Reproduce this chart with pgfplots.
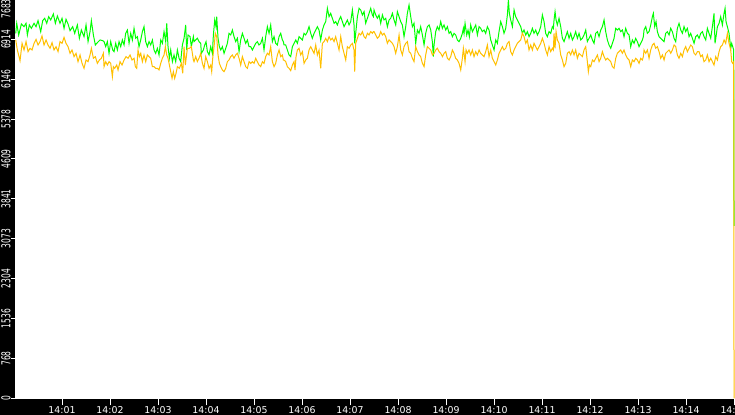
\documentclass[border=0pt]{standalone}
\usepackage{fontspec}
\setmainfont{DejaVu Sans}
\usepackage{pgfplots}
\pgfplotsset{compat=1.18}
\definecolor{gr}{RGB}{0,255,0}
\definecolor{og}{RGB}{255,192,0}
\newcommand\yl[1]{\scalebox{0.8}[1.3]{#1}}
\begin{document}
\begin{tikzpicture}
\fill[black] (0,0) rectangle (735bp,415bp);
\begin{axis}[
  at={(15bp,16.7bp)}, anchor=south west,
  scale only axis, width=720bp, height=399bp,
  xmin=0.02, xmax=15.02, ymin=0, ymax=7683,
  axis background/.style={fill=white},
  axis x line*=bottom, axis y line*=left,
  axis line style={white, line width=1bp},
  tick align=outside,
  tick style={white, line width=1bp},
  major tick length=4bp,
  xtick style={/pgfplots/major tick length=7bp},
  font=\fontsize{9.4bp}{10bp}\selectfont,
  xtick={1,2,...,15},
  xticklabels={14:01,14:02,14:03,14:04,14:05,14:06,14:07,14:08,14:09,14:10,14:11,14:12,14:13,14:14,14:15},
  xticklabel style={white, anchor=north, inner sep=0.5bp, yshift=-3.5bp},
  ytick={0,768,1536,2304,3073,3841,4609,5378,6146,6914,7683},
  yticklabels={\yl{0},\yl{768},\yl{1536},\yl{2304},\yl{3073},\yl{3841},\yl{4609},\yl{5378},\yl{6146},\yl{6914},\makebox[0pt][r]{\yl{7683}}},
  yticklabel style={white, rotate=90, anchor=south, inner sep=0.3bp},
  clip=false,
]
\addplot[gr, line width=1bp, no markers] coordinates {
(0.035,7028) (0.056,7221) (0.097,6996) (0.153,7208) (0.208,7156) (0.25,7221) (0.278,6996) (0.319,7189)
(0.361,7124) (0.417,7221) (0.458,7156) (0.5,7272) (0.556,7060) (0.597,7272) (0.639,7317) (0.681,7221)
(0.722,7349) (0.764,7285) (0.819,7400) (0.861,7221) (0.903,7362) (0.958,7221) (1.0,7317) (1.042,7124)
(1.083,7298) (1.125,7208) (1.167,7079) (1.222,7156) (1.264,7028) (1.319,7189) (1.361,6932) (1.403,7092)
(1.458,6964) (1.5,7189) (1.542,6868) (1.583,7060) (1.611,7272) (1.653,6996) (1.694,6803) (1.736,6848)
(1.792,6900) (1.847,6887)
(1.875,6868) (1.910,6771) (1.944,6868) (1.979,6643) (2.014,6868) (2.056,6707) (2.083,6675) (2.118,6835)
(2.153,6707) (2.188,6868) (2.222,6771) (2.257,6900) (2.292,6803) (2.326,7028) (2.361,7092) (2.396,6835)
(2.431,7028) (2.465,6900) (2.5,7124) (2.535,6932) (2.569,6964) (2.604,6771) (2.639,6900) (2.674,7060)
(2.708,7156) (2.743,6868) (2.778,6771) (2.813,6868) (2.847,6803) (2.882,6900) (2.917,6707) (2.951,6643)
(2.986,6739) (3.021,6611) (3.056,6900) (3.090,6835) (3.125,7060) (3.160,6868) (3.181,7221) (3.208,6771)
(3.236,6547) (3.264,6707) (3.299,6482) (3.333,6611) (3.368,6482) (3.403,6707) (3.438,6547) (3.472,6482)
(3.507,6803) (3.542,6932) (3.576,7189) (3.597,6707) (3.625,6996) (3.667,6964) (3.694,6771) (3.736,6964)
(3.75,6868) (3.785,6900) (3.819,6932) (3.854,6868) (3.889,6835) (3.903,6643) (3.944,6707) (3.972,6803)
(4.0,6868) (4.028,6675) (4.063,6611) (4.097,6771) (4.132,6643) (4.153,6996) (4.181,7285) (4.208,7156)
(4.222,7349) (4.25,6932) (4.278,6771) (4.306,6707) (4.340,6771) (4.375,6643) (4.410,6739) (4.444,6835)
(4.479,7028) (4.514,6996) (4.549,7092) (4.583,6964) (4.618,6868) (4.653,6932) (4.688,6675) (4.722,6900)
(4.757,7028) (4.792,6932) (4.826,6835) (4.861,6900) (4.896,6771) (4.931,6771) (4.965,6707) (5.0,6771)
(5.035,6835) (5.069,6868) (5.104,6803) (5.139,6835) (5.174,6932) (5.208,6707) (5.243,6964) (5.278,7156)
(5.313,7028) (5.347,7189) (5.382,6868) (5.417,6964) (5.451,6835) (5.486,6803) (5.521,6964) (5.556,7028)
(5.590,6900) (5.611,6868)
(5.625,6803) (5.660,6803) (5.694,6707) (5.729,6611) (5.764,6579) (5.799,6771) (5.833,6835) (5.868,6900)
(5.903,6835) (5.938,6964) (5.972,6932) (6.007,6900) (6.042,7028) (6.076,6996) (6.111,7060) (6.146,7156)
(6.181,7028) (6.215,6932) (6.25,7028) (6.285,7092) (6.319,7156) (6.354,7092) (6.389,6900) (6.424,7092)
(6.458,7189) (6.493,7253) (6.528,7510) (6.563,7349) (6.597,7413) (6.632,7317) (6.667,7221) (6.701,7253)
(6.736,7189) (6.771,7285) (6.806,7349) (6.840,7253) (6.875,7156) (6.910,7221) (6.944,7285) (6.979,7189)
(7.014,7253) (7.049,7477) (7.083,7189) (7.097,6835) (7.118,7028) (7.153,7349) (7.188,7510) (7.222,7477)
(7.257,7381) (7.292,7445) (7.326,7221) (7.361,7317) (7.396,7413) (7.431,7510) (7.465,7381) (7.486,7349)
(7.5,7477) (7.535,7381) (7.569,7317) (7.604,7381) (7.639,7221) (7.674,7381) (7.708,7285) (7.743,7317)
(7.778,7156) (7.813,7285) (7.847,7317) (7.882,7413) (7.917,7285) (7.951,7189) (7.986,7445) (8.021,7349)
(8.056,7253) (8.090,7189) (8.125,6964) (8.160,7156) (8.194,7413) (8.229,7574) (8.264,7349) (8.299,7156)
(8.333,7221) (8.368,6835) (8.403,7092) (8.438,7028) (8.472,7156) (8.507,6996) (8.542,6803) (8.576,7028)
(8.611,7156) (8.646,7189) (8.681,7092) (8.715,6868) (8.736,6579) (8.75,6803) (8.785,7060) (8.819,7156)
(8.854,7092) (8.889,7253) (8.924,7124) (8.958,7189) (8.993,7092) (9.028,7156) (9.063,7028) (9.097,7060)
(9.132,6964) (9.167,7028) (9.201,6996) (9.236,6900) (9.271,6868) (9.306,6932) (9.340,7028) (9.361,7124)
(9.375,7028) (9.396,7221) (9.431,6996) (9.458,7092) (9.486,6964) (9.514,7189) (9.549,7060) (9.583,7124)
(9.618,7189) (9.653,6996) (9.688,7156) (9.722,7124) (9.757,7060) (9.792,7092) (9.826,7028) (9.861,7156)
(9.896,7092) (9.931,6900) (9.965,6803) (10.0,6707) (10.035,6900) (10.069,6835) (10.104,7060) (10.139,7253)
(10.174,7156) (10.208,7028) (10.243,7124) (10.278,7381) (10.299,7670) (10.319,7413) (10.347,7285) (10.382,7156)
(10.417,7477) (10.451,7349) (10.486,7285) (10.521,7221) (10.556,7156) (10.590,7028) (10.625,7092) (10.660,6996)
(10.694,7060) (10.729,6964) (10.764,7028) (10.799,7124) (10.833,7028) (10.868,7092) (10.903,6996) (10.938,7060)
(10.972,7156) (11.007,7381) (11.042,7253) (11.076,7028) (11.111,6964) (11.146,7060) (11.181,7028) (11.215,7156)
(11.236,7124)
(11.25,7285) (11.271,7445) (11.292,7285) (11.319,7189) (11.354,7317) (11.389,7156) (11.424,6932) (11.458,6868)
(11.493,6964) (11.528,7060) (11.563,6932) (11.597,7028) (11.632,6900) (11.667,6964) (11.701,7060) (11.736,6932)
(11.771,7028) (11.806,6900) (11.840,6932) (11.875,6996) (11.910,7092) (11.944,6868) (11.979,6932) (12.014,6996)
(12.049,6900) (12.083,6835) (12.118,7028) (12.153,7060) (12.188,6964) (12.222,7092) (12.257,7156) (12.292,7285)
(12.326,7060) (12.361,6900) (12.396,6803) (12.431,6739) (12.465,6835) (12.5,6932) (12.535,7124) (12.569,7092)
(12.604,7124) (12.639,7060) (12.674,7092) (12.708,6964) (12.743,7124) (12.778,7028) (12.813,6996) (12.847,6771)
(12.882,6900) (12.917,6835) (12.951,6932) (12.986,6868) (13.021,6771) (13.056,6835) (13.090,6900) (13.111,6964)
(13.125,7092) (13.160,7156) (13.194,7028) (13.229,7060) (13.264,7189) (13.299,7349) (13.319,7413) (13.347,7156)
(13.375,7253) (13.403,7060) (13.438,6964) (13.472,6932) (13.507,6900) (13.542,6868) (13.576,7028) (13.611,7060)
(13.646,6996) (13.681,7124) (13.715,7060) (13.75,6932) (13.785,6868) (13.819,7124) (13.854,7221) (13.889,7092)
(13.924,7028) (13.958,7156) (13.993,7060) (14.028,7124) (14.063,6964) (14.097,7028) (14.132,6932) (14.167,6835)
(14.201,6964) (14.236,6996) (14.271,6932) (14.306,7028) (14.340,7060) (14.375,6964) (14.410,6900) (14.444,7124)
(14.479,7028) (14.514,6932) (14.549,7156) (14.583,7413) (14.604,6835) (14.625,6964) (14.653,7156) (14.688,7221)
(14.722,7349) (14.757,7189) (14.792,7413) (14.813,7510) (14.833,7253) (14.861,7156) (14.896,7028) (14.931,6739)
(14.951,6835) (14.972,6771) (14.993,6707) (15.0,3320)
};
\addplot[og, line width=1bp, no markers] coordinates {
(0.035,6900) (0.069,6707) (0.104,6579) (0.125,6502) (0.167,6835) (0.208,6707) (0.25,6868) (0.292,6675)
(0.333,6739) (0.375,6707) (0.417,6835) (0.458,6912) (0.5,6803) (0.542,6868) (0.583,6977) (0.625,6803)
(0.667,6900) (0.708,6803) (0.75,6739) (0.792,6848) (0.833,6707) (0.875,6771) (0.917,6675) (0.958,6868)
(1.0,6835) (1.042,6951) (1.083,6835) (1.125,6771) (1.167,6643) (1.208,6707) (1.25,6579) (1.292,6643)
(1.333,6482) (1.375,6611) (1.417,6450) (1.458,6354) (1.5,6514) (1.542,6482) (1.583,6611) (1.611,6739)
(1.653,6547) (1.694,6579) (1.736,6450) (1.778,6514) (1.819,6547) (1.861,6643)
(1.875,6386) (1.910,6482) (1.944,6418) (1.979,6482) (2.014,6450) (2.049,6193) (2.069,6386) (2.097,6354)
(2.139,6418) (2.167,6322) (2.208,6482) (2.25,6418) (2.292,6514) (2.333,6579) (2.375,6547) (2.417,6611)
(2.458,6514) (2.5,6547) (2.528,6386) (2.556,6354) (2.583,6707) (2.611,6579) (2.639,6643) (2.674,6482)
(2.708,6611) (2.743,6482) (2.778,6611) (2.813,6579) (2.847,6547) (2.882,6386) (2.917,6386) (2.951,6354)
(2.986,6354) (3.021,6322) (3.056,6450) (3.090,6547) (3.125,6611) (3.153,6771) (3.181,6611) (3.208,6547)
(3.236,6418) (3.264,6290) (3.292,6161) (3.319,6290) (3.347,6161) (3.375,6258) (3.403,6386) (3.444,6354)
(3.486,6450) (3.514,6258) (3.542,6771) (3.569,6418) (3.611,6739) (3.653,6739) (3.694,6771) (3.736,6514)
(3.75,6482) (3.785,6579) (3.819,6482) (3.854,6547) (3.889,6643) (3.924,6450) (3.958,6354) (3.993,6579)
(4.028,6482) (4.063,6354) (4.097,6418) (4.118,6290) (4.139,6547) (4.167,6771) (4.194,7028) (4.222,6964)
(4.25,6611) (4.278,6450) (4.306,6386) (4.340,6322) (4.375,6290) (4.410,6354) (4.444,6482) (4.479,6514)
(4.514,6579) (4.549,6611) (4.583,6547) (4.618,6611) (4.653,6643) (4.688,6547) (4.722,6418) (4.757,6579)
(4.792,6482) (4.826,6386) (4.861,6354) (4.896,6482) (4.931,6450) (4.965,6482) (5.0,6450) (5.035,6547)
(5.069,6482) (5.104,6418) (5.139,6386) (5.174,6482) (5.208,6450) (5.243,6579) (5.278,6643) (5.313,6611)
(5.347,6771) (5.382,6482) (5.417,6386) (5.451,6450) (5.486,6611) (5.521,6707) (5.556,6579) (5.590,6611)
(5.611,6514)
(5.625,6514) (5.660,6482) (5.694,6386) (5.729,6354) (5.764,6309) (5.799,6418) (5.833,6482) (5.854,6322)
(5.875,6579) (5.903,6707) (5.938,6739) (5.972,6611) (6.007,6675) (6.042,6450) (6.076,6514) (6.111,6547)
(6.146,6707) (6.181,6771) (6.215,6707) (6.25,6643) (6.285,6803) (6.319,6611) (6.354,6707) (6.389,6354)
(6.424,6835) (6.458,6868) (6.493,6932) (6.528,6868) (6.563,6964) (6.597,6900) (6.632,6932) (6.667,6868)
(6.701,6964) (6.736,6835) (6.771,6707) (6.806,6964) (6.840,6771) (6.875,6643) (6.910,6514) (6.944,6771)
(6.979,6739) (7.014,6803) (7.049,6835) (7.083,6707) (7.097,6290) (7.118,6835) (7.153,6932) (7.188,7028)
(7.222,6996) (7.257,7060) (7.292,6964) (7.326,6932) (7.361,7028) (7.396,6996) (7.431,7060) (7.465,7028)
(7.486,7060)
(7.5,7060) (7.535,6996) (7.569,6932) (7.604,6964) (7.639,7060) (7.674,6996) (7.708,7028) (7.743,6964)
(7.778,6835) (7.813,6900) (7.847,6868) (7.882,6835) (7.917,6771) (7.951,6643) (7.986,6771) (8.021,6996)
(8.056,6707) (8.090,6611) (8.125,6771) (8.160,6835) (8.194,6868) (8.229,6675) (8.264,6643) (8.299,6547)
(8.333,6482) (8.368,6771) (8.403,6675) (8.438,6611) (8.472,6579) (8.507,6450) (8.542,6386) (8.576,6611)
(8.611,6771) (8.646,6739) (8.681,6707) (8.715,6611) (8.75,6643) (8.785,6707) (8.819,6739) (8.854,6675)
(8.889,6643) (8.924,6579) (8.958,6643) (8.993,6675) (9.028,6547) (9.063,6514) (9.097,6579) (9.132,6707)
(9.167,6643) (9.201,6547) (9.236,6514) (9.271,6450) (9.306,6322) (9.340,6547) (9.361,6739)
(9.375,6643) (9.396,6482) (9.417,6707) (9.444,6643) (9.479,6707) (9.514,6611) (9.549,6707) (9.583,6579)
(9.618,6675) (9.653,6611) (9.688,6707) (9.722,6643) (9.757,6611) (9.792,6579) (9.826,6675) (9.861,6803)
(9.896,6579) (9.931,6707) (9.965,6547) (10.0,6482) (10.035,6418) (10.069,6514) (10.104,6643) (10.139,6707)
(10.174,6771) (10.208,6707) (10.243,6739) (10.278,6835) (10.313,6868) (10.347,6675) (10.382,6611) (10.417,6707)
(10.451,6771) (10.486,6835) (10.521,6868) (10.556,6900) (10.590,7028) (10.625,6964) (10.660,6835) (10.694,6900)
(10.729,6707) (10.764,6803) (10.799,6707) (10.833,6835) (10.868,6771) (10.903,6707) (10.938,6771) (10.972,6835)
(11.007,6932) (11.042,6835) (11.076,6707) (11.111,6611) (11.146,6771) (11.181,6675) (11.215,6739) (11.236,6707)
(11.25,7028) (11.271,6739) (11.292,7060) (11.319,6900) (11.354,6835) (11.389,6611) (11.424,6514) (11.458,6386)
(11.493,6450) (11.528,6643) (11.563,6675) (11.597,6611) (11.632,6707) (11.667,6611) (11.701,6707) (11.736,6547)
(11.771,6643) (11.806,6611) (11.840,6579) (11.875,6707) (11.910,6771) (11.944,6482) (11.965,6290) (11.986,6418)
(12.014,6386) (12.049,6514) (12.083,6482) (12.118,6547) (12.153,6611) (12.188,6482) (12.222,6547) (12.257,6675)
(12.292,6579) (12.326,6514) (12.361,6547) (12.396,6514) (12.431,6482) (12.465,6386) (12.5,6354) (12.535,6547)
(12.569,6643) (12.604,6675) (12.639,6707) (12.674,6643) (12.708,6707) (12.743,6611) (12.778,6547) (12.813,6514)
(12.847,6386) (12.882,6514) (12.917,6482) (12.951,6547) (12.986,6514) (13.021,6450) (13.056,6547) (13.090,6514)
(13.111,6579)
(13.125,6707) (13.160,6643) (13.194,6707) (13.229,6547) (13.264,6707) (13.299,6803) (13.333,6835) (13.368,6739)
(13.403,6771) (13.438,6675) (13.472,6547) (13.507,6611) (13.542,6514) (13.576,6643) (13.611,6675) (13.646,6707)
(13.681,6643) (13.715,6707) (13.75,6803) (13.785,6771) (13.819,6611) (13.854,6547) (13.889,6643) (13.924,6579)
(13.958,6707) (13.993,6771) (14.028,6675) (14.063,6739) (14.097,6803) (14.132,6771) (14.167,6643) (14.201,6611)
(14.236,6675) (14.271,6675) (14.306,6579) (14.340,6611) (14.375,6482) (14.410,6514) (14.444,6611) (14.479,6482)
(14.514,6547) (14.549,6482) (14.583,6418) (14.618,6579) (14.653,6514) (14.688,6675) (14.722,6771) (14.757,6803)
(14.792,6900) (14.826,6835) (14.861,7028) (14.896,6835) (14.931,6707) (14.951,6482) (14.972,6450) (14.993,6482)
(15.0,0)
};
\end{axis}
\pgfresetboundingbox
\useasboundingbox (0,0) rectangle (735bp,415bp);
\end{tikzpicture}
\end{document}
